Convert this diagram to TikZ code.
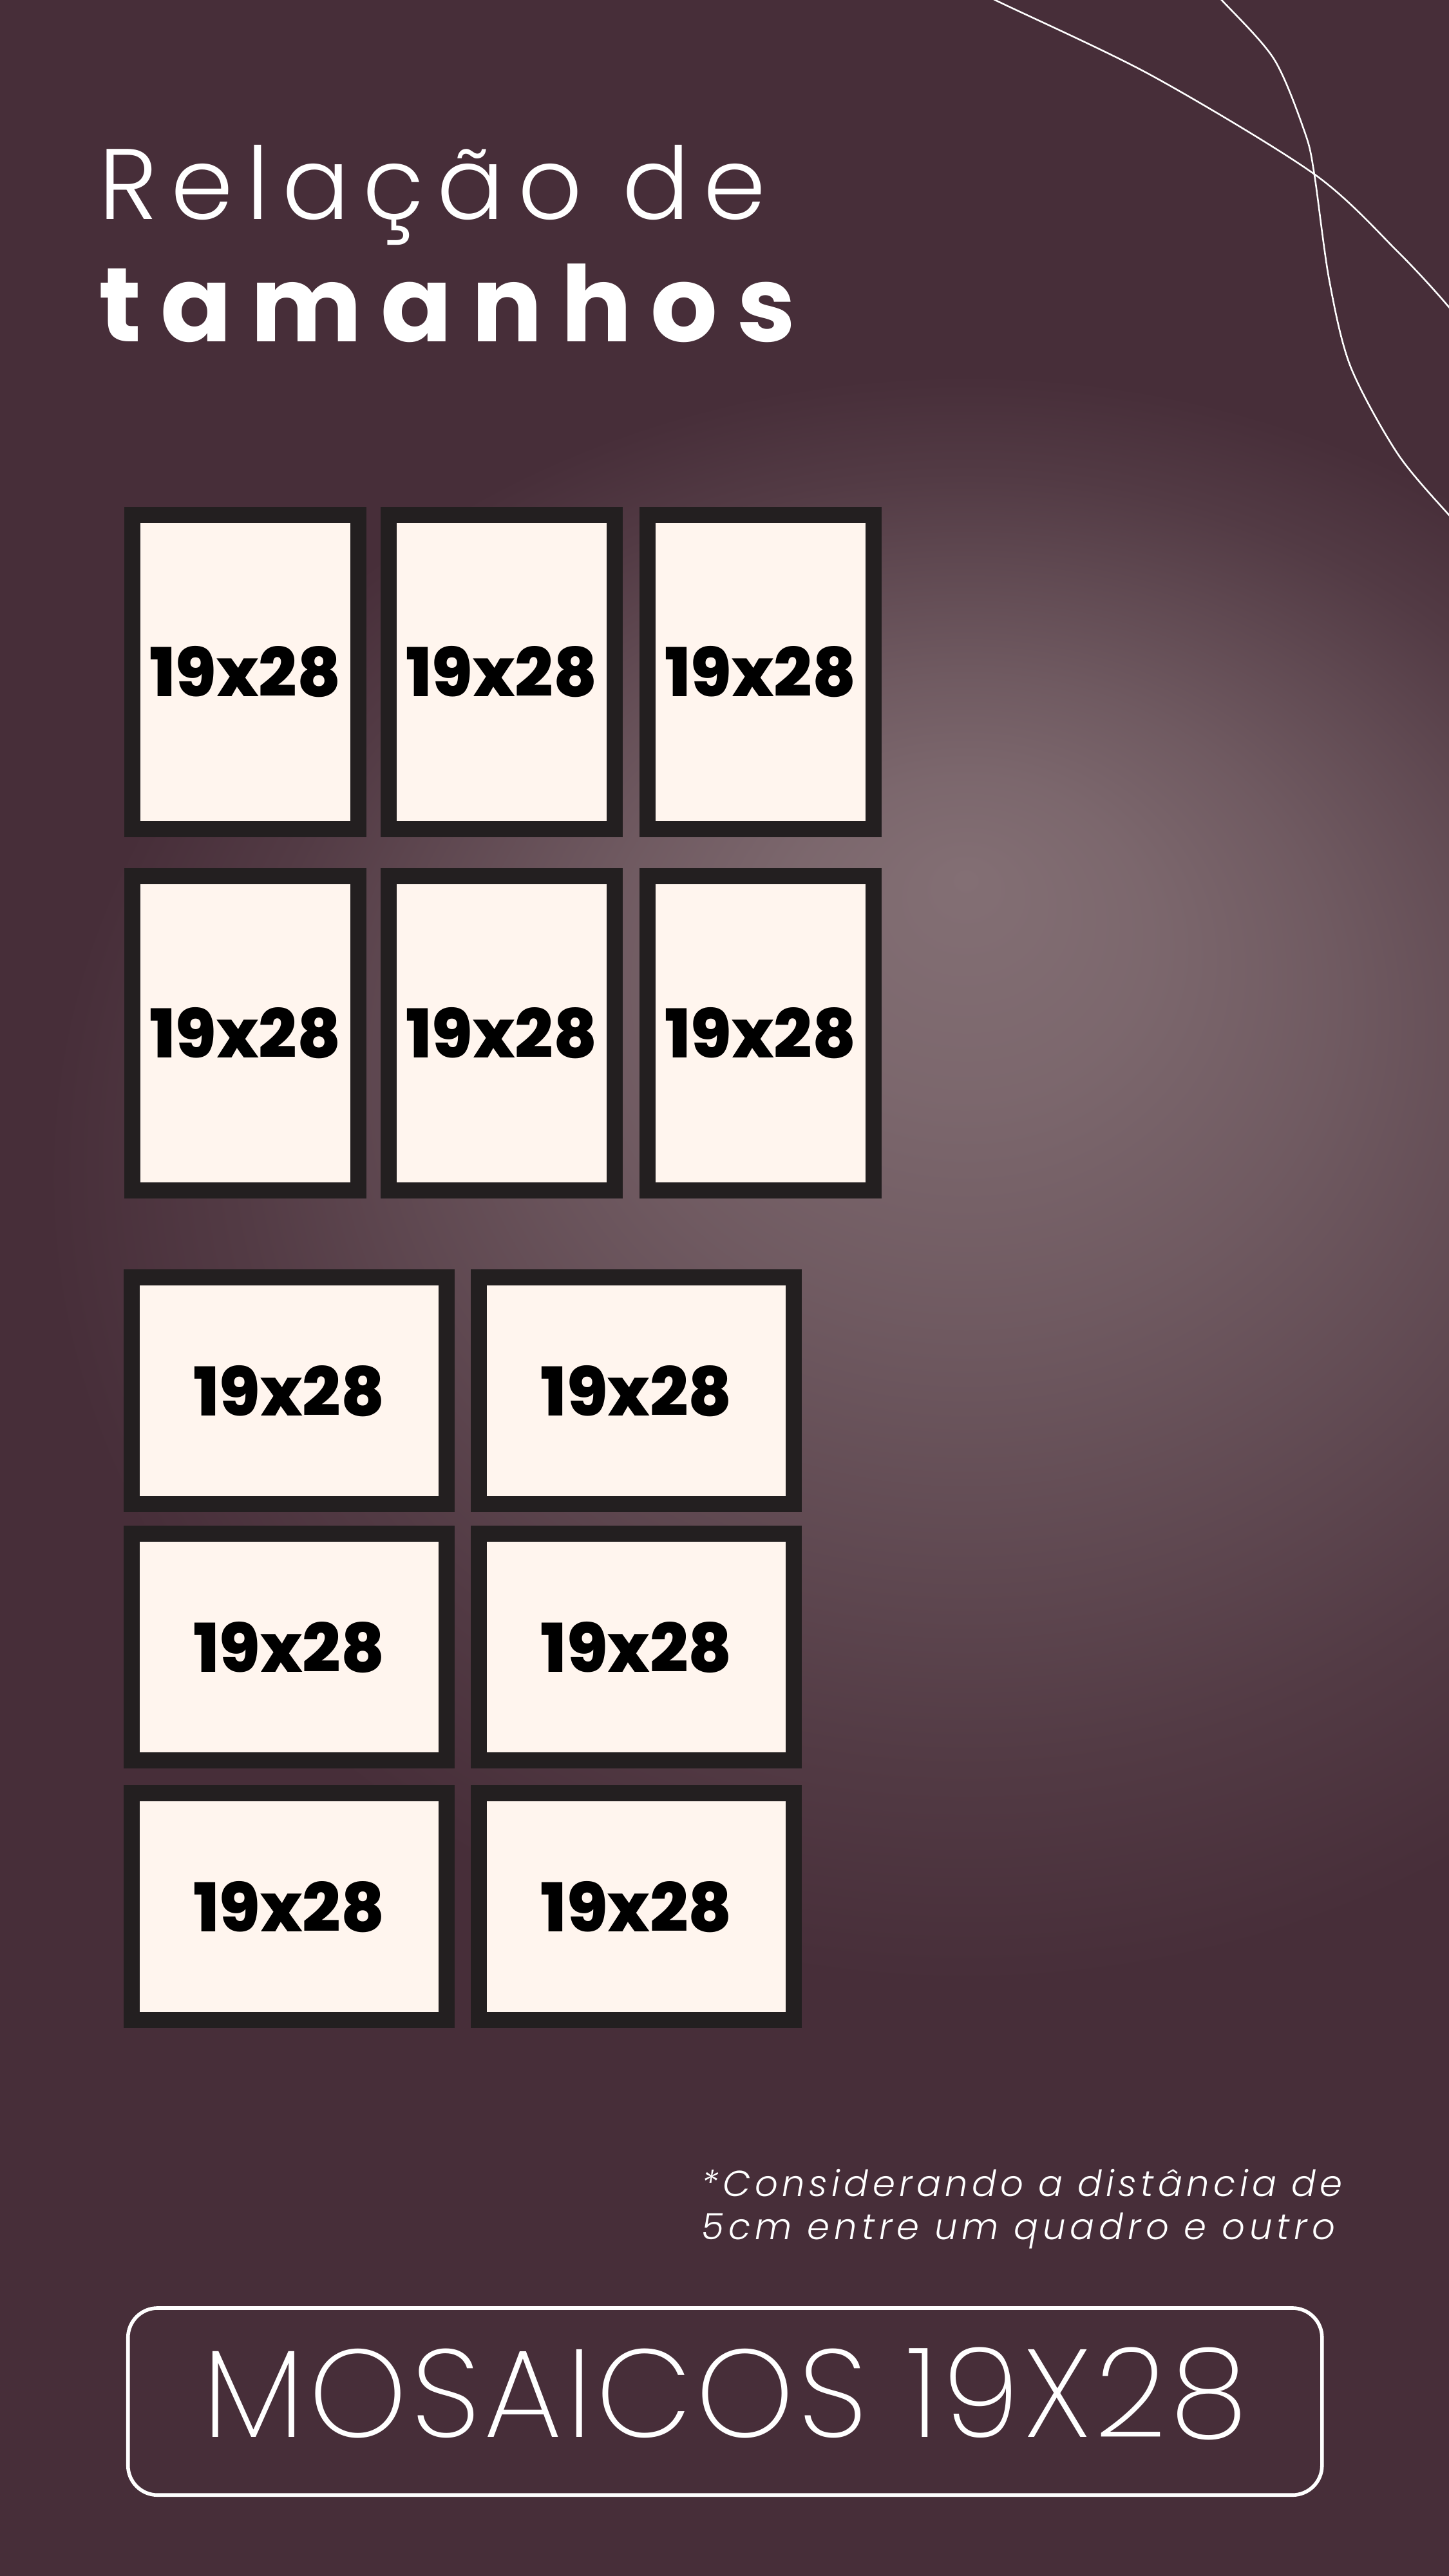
\documentclass[tikz,border=0pt]{standalone}
\usepackage{fontspec}
\setmainfont{Poppins}
\newfontfamily\fLight{Poppins Light}[LetterSpace=13]
\newfontfamily\fBold{Poppins Bold}[LetterSpace=18]
\newfontfamily\fXBold{Poppins ExtraBold}
\newfontfamily\fXLight{Poppins ExtraLight}[LetterSpace=3]
\newfontfamily\fNoteA{Poppins Light Italic}[LetterSpace=11.4]
\newfontfamily\fNoteB{Poppins Light Italic}[LetterSpace=12.5]
\definecolor{bgdark}{HTML}{472E39}
\definecolor{glow}{HTML}{836F74}
\definecolor{framecol}{HTML}{231F20}
\definecolor{cream}{HTML}{FFF5EE}
\pgfdeclareradialshading{glowshade}{\pgfpoint{0bp}{9.4bp}}{%
  color(0bp)=(glow); color(5bp)=(glow!88!bgdark); color(10bp)=(glow!68!bgdark);
  color(15bp)=(glow!44!bgdark); color(20bp)=(glow!19!bgdark); color(25bp)=(bgdark)}
\begin{document}
\begin{tikzpicture}[x=1pt,y=-1pt,
  pframe/.style={draw=framecol, line width=9.8pt, fill=cream, minimum width=137.6pt,
    minimum height=191.5pt, inner sep=0pt, font=\fXBold\fontsize{41}{41}\selectfont},
  lframe/.style={draw=framecol, line width=9.8pt, fill=cream, minimum width=191.7pt,
    minimum height=137.8pt, inner sep=0pt, font=\fXBold\fontsize{41}{41}\selectfont},
  deco/.style={draw=white, line width=1pt},
  txt/.style={inner sep=0pt, text=white}]
\useasboundingbox (0,0) rectangle (882,1568);
\fill[bgdark] (0,0) rectangle (882,1568);
\begin{scope}
  \clip (0,0) rectangle (882,1568);
  \shade[shading=glowshade] (588,718) ellipse (560 and 490);
  \draw[deco] plot[smooth] coordinates {(570,-18) (605.7,0) (700.5,45.7) (800,106) (850.6,153) (882,187) (900,212)};
  \draw[deco] plot[smooth] coordinates {(726,-18) (743.6,0) (775.5,36) (794.3,80.8) (800,106) (809,170) (822,223) (850.6,276) (882,313.5) (900,332)};
\end{scope}
% title
\node[txt, anchor=base west] (title1) at (60,133.5) {\fLight\fontsize{61}{61}\selectfont Relação de};
\node[txt, anchor=base west] (title2) at (60,208) {\fBold\fontsize{64}{64}\selectfont tamanhos};
% portrait frames
\node[pframe] (p1) at (149.3,409) {19x28};
\node[pframe] (p2) at (305.3,409) {19x28};
\node[pframe] (p3) at (462.9,409) {19x28};
\node[pframe] (p4) at (149.3,629) {19x28};
\node[pframe] (p5) at (305.3,629) {19x28};
\node[pframe] (p6) at (462.9,629) {19x28};
% landscape frames
\node[lframe] (l1) at (176,846.6) {19x28};
\node[lframe] (l2) at (387.4,846.6) {19x28};
\node[lframe] (l3) at (176,1002.6) {19x28};
\node[lframe] (l4) at (387.4,1002.6) {19x28};
\node[lframe] (l5) at (176,1160.6) {19x28};
\node[lframe] (l6) at (387.4,1160.6) {19x28};
% note
\node[txt, anchor=base west] (note1) at (427,1337) {\fNoteA\fontsize{22}{22}\selectfont *Considerando a distância de};
\node[txt, anchor=base west] (note2) at (427,1363) {\fNoteB\fontsize{22}{22}\selectfont 5cm entre um quadro e outro};
% bottom box
\node[draw=white, line width=2.2pt, rounded corners=18pt, minimum width=726.8pt,
  minimum height=113.8pt, inner sep=0pt] (box) at (441.3,1461.8) {};
\node[txt, anchor=base] (boxtext) at (441.3,1483.4) {\fXLight\fontsize{76}{76}\selectfont MOSAICOS 19X28};
\end{tikzpicture}
\end{document}
